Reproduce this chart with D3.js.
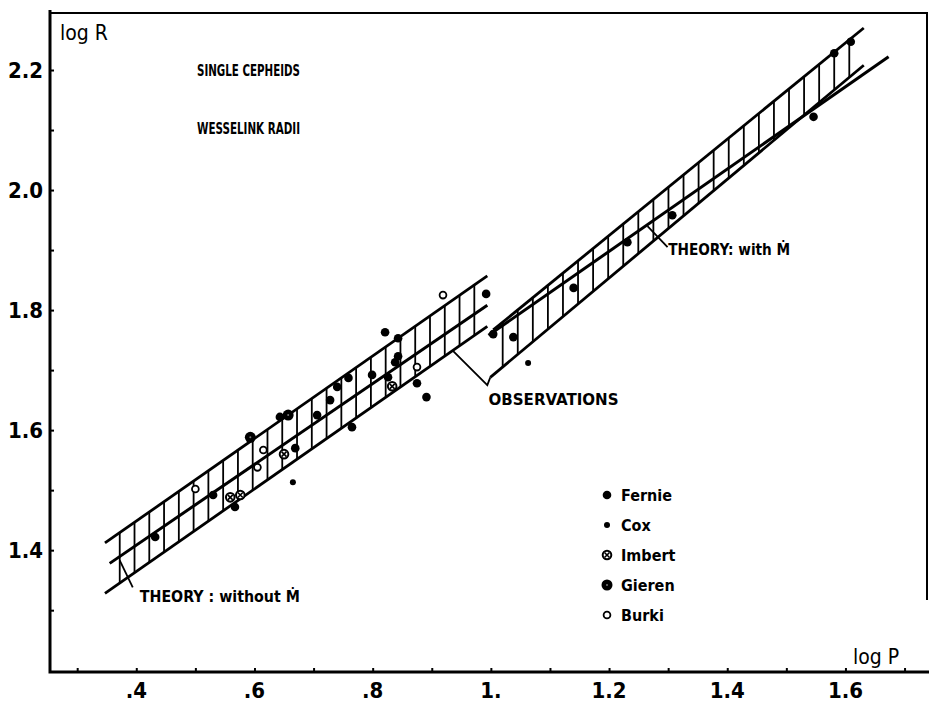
<!DOCTYPE html>
<html>
<head>
<meta charset="utf-8">
<script src="https://cdn.jsdelivr.net/npm/d3@7"></script>
<style>
  body { margin: 0; background: #fff; }
  svg text { font-family: "DejaVu Sans Condensed", "Liberation Sans Narrow", sans-serif; fill: #000; }
</style>
</head>
<body>
<svg id="chart" width="929" height="702"></svg>
<script>
// --- tick labels
const xTicks = [0.4, 0.6, 0.8, 1.0, 1.2, 1.4, 1.6];
const xTickLabels = [".4", ".6", ".8", "1.", "1.2", "1.4", "1.6"];
const yTicks = [1.4, 1.6, 1.8, 2.0, 2.2];
const yTickLabels = ["1.4", "1.6", "1.8", "2.0", "2.2"];

// --- bands, end points [log P, log R]
const obsShortUpper = [[0.347, 1.412], [0.994, 1.857]];
const obsShortLower = [[0.347, 1.328], [0.994, 1.773]];
const theoryNoMdot  = [[0.355, 1.378], [0.994, 1.808]];
const obsLongUpper  = [[1.004, 1.767], [1.631, 2.270]];
const obsLongLower  = [[0.999, 1.688], [1.631, 2.208]];
const theoryMdot    = [[0.996, 1.758], [1.673, 2.222]];

// --- stars [log P, log R]
const fernie = [
  [0.432,1.422],[0.567,1.472],[0.530,1.492],[0.669,1.570],[0.643,1.622],[0.706,1.625],
  [0.728,1.650],[0.740,1.672],[0.759,1.687],[0.799,1.692],[0.765,1.605],[0.821,1.763],
  [0.843,1.753],[0.843,1.723],[0.838,1.713],[0.826,1.688],[0.875,1.678],[0.891,1.655],
  [0.992,1.827],[1.004,1.760],[1.038,1.755],[1.140,1.837],[1.231,1.913],[1.307,1.958],
  [1.546,2.122],[1.581,2.228],[1.609,2.247]
];
const cox    = [[0.665,1.513],[1.063,1.712]];
const imbert = [[0.650,1.560],[0.559,1.488],[0.576,1.492],[0.833,1.673]];
const gieren = [[0.593,1.588],[0.657,1.625]];
const burki  = [[0.615,1.567],[0.605,1.538],[0.500,1.502],[0.919,1.825],[0.875,1.705]];

// --- annotation leaders [log P, log R]
const leaderNoMdot = [[0.372,1.383],[0.394,1.338]];
const leaderObs    = [[0.935,1.733],[0.994,1.675],[0.999,1.688]];
const leaderMdot   = [[1.265,1.940],[1.299,1.905]];

const svg = d3.select('#chart');
const x = d3.scaleLinear().domain([0.254, 1.738]).range([50, 927]);
const y = d3.scaleLinear().domain([1.197, 2.295]).range([672, 13]);
const line = d3.line().x(d => x(d[0])).y(d => y(d[1]));
const at = (seg, p) => seg[0][1] + (seg[1][1] - seg[0][1]) * (p - seg[0][0]) / (seg[1][0] - seg[0][0]);

// frame
svg.append('path').attr('d', `M50,10V672H929`).attr('fill','none').attr('stroke','#000').attr('stroke-width',3);
svg.append('path').attr('d', `M50,13H927V600`).attr('fill','none').attr('stroke','#000').attr('stroke-width',2);

// axes (inward ticks every 0.1)
const xAx = svg.append('g').attr('transform','translate(0,672)')
  .call(d3.axisBottom(x).tickValues(d3.range(3, 18).map(d => d / 10)).tickSize(-4).tickFormat(''));
const yAx = svg.append('g').attr('transform','translate(50,0)')
  .call(d3.axisLeft(y).tickValues(d3.range(13, 23).map(d => d / 10)).tickSize(-4).tickFormat(''));
[xAx, yAx].forEach(g => { g.select('.domain').remove(); g.selectAll('line').attr('stroke-width', 2); });

svg.selectAll('text.xl').data(xTicks).enter().append('text').attr('class','xl')
  .attr('x', d => x(d)).attr('y', 698).attr('text-anchor','middle')
  .style('font-size','22px').style('font-weight','bold')
  .text((d, i) => xTickLabels[i]);
svg.selectAll('text.yl').data(yTicks).enter().append('text').attr('class','yl')
  .attr('x', 43).attr('y', d => y(d) + 8).attr('text-anchor','end')
  .style('font-size','22px').style('font-weight','bold')
  .text((d, i) => yTickLabels[i]);

svg.append('text').attr('x', 60).attr('y', 40).style('font-size','21px').text('log R');
svg.append('text').attr('x', 853).attr('y', 664).style('font-size','21px').text('log P');

// bands
function band(upper, lower, p0, p1, step) {
  const g = svg.append('g').attr('stroke','#000').attr('fill','none');
  g.selectAll('line').data(d3.range(p0, p1 + 1e-6, step)).enter().append('line')
    .attr('x1', d => x(d)).attr('x2', d => x(d))
    .attr('y1', d => y(at(upper, d))).attr('y2', d => y(at(lower, d)))
    .attr('stroke-width', 1.8);
  [upper, lower].forEach(s => g.append('path').attr('d', line(s)).attr('stroke-width', 2.8));
}
band(obsShortUpper, obsShortLower, 0.372, 0.972, 0.025);
band(obsLongUpper, obsLongLower, 1.020, 1.631, 0.0255);
[theoryNoMdot, theoryMdot].forEach(s => svg.append('path').attr('d', line(s))
  .attr('fill','none').attr('stroke','#000').attr('stroke-width', 3));

// leaders
[leaderNoMdot, leaderObs, leaderMdot].forEach(s => svg.append('path').attr('d', line(s))
  .attr('fill','none').attr('stroke','#000').attr('stroke-width', 1.8));

const ann = (px, py, txt, w, size) => svg.append('text').attr('x', px).attr('y', py)
  .attr('textLength', w).attr('lengthAdjust','spacingAndGlyphs')
  .style('font-size', size + 'px').style('font-weight','bold').text(txt);
ann(x(0.406), y(1.313), 'THEORY : without Ṁ', 160, 16);
ann(x(0.996), y(1.642), 'OBSERVATIONS', 130, 16);
ann(x(1.300), y(1.892), 'THEORY: with Ṁ', 122, 16);
ann(197, 76, 'SINGLE CEPHEIDS', 103, 15);
ann(197, 134, 'WESSELINK RADII', 103, 15);

// markers
const draw = {
  Fernie: (g) => g.append('circle').attr('r', 4.3).attr('fill','#000'),
  Cox:    (g) => g.append('circle').attr('r', 3).attr('fill','#000'),
  Imbert: (g) => { g.append('circle').attr('r', 4.3).attr('fill','#fff').attr('stroke','#000').attr('stroke-width', 2);
                   g.append('path').attr('d','M-2.5,-2.5L2.5,2.5M-2.5,2.5L2.5,-2.5').attr('stroke','#000').attr('stroke-width',1.6); },
  Gieren: (g) => { g.append('circle').attr('r', 5.5).attr('fill','#000');
                   g.append('circle').attr('r', 1).attr('fill','#777'); },
  Burki:  (g) => g.append('circle').attr('r', 3.4).attr('fill','#fff').attr('stroke','#000').attr('stroke-width', 1.8)
};
const series = [['Fernie', fernie], ['Cox', cox], ['Imbert', imbert], ['Gieren', gieren], ['Burki', burki]];
series.forEach(([name, pts]) => {
  svg.append('g').selectAll('g').data(pts).enter().append('g')
    .attr('transform', d => `translate(${x(d[0])},${y(d[1])})`)
    .each(function () { draw[name](d3.select(this)); });
});

// legend
series.forEach(([name], i) => {
  const g = svg.append('g').attr('transform', `translate(607,${495 + i * 30})`);
  draw[name](g);
  g.append('text').attr('x', 14).attr('y', 6).style('font-size','16px').style('font-weight','bold').text(name);
});
</script>
</body>
</html>
